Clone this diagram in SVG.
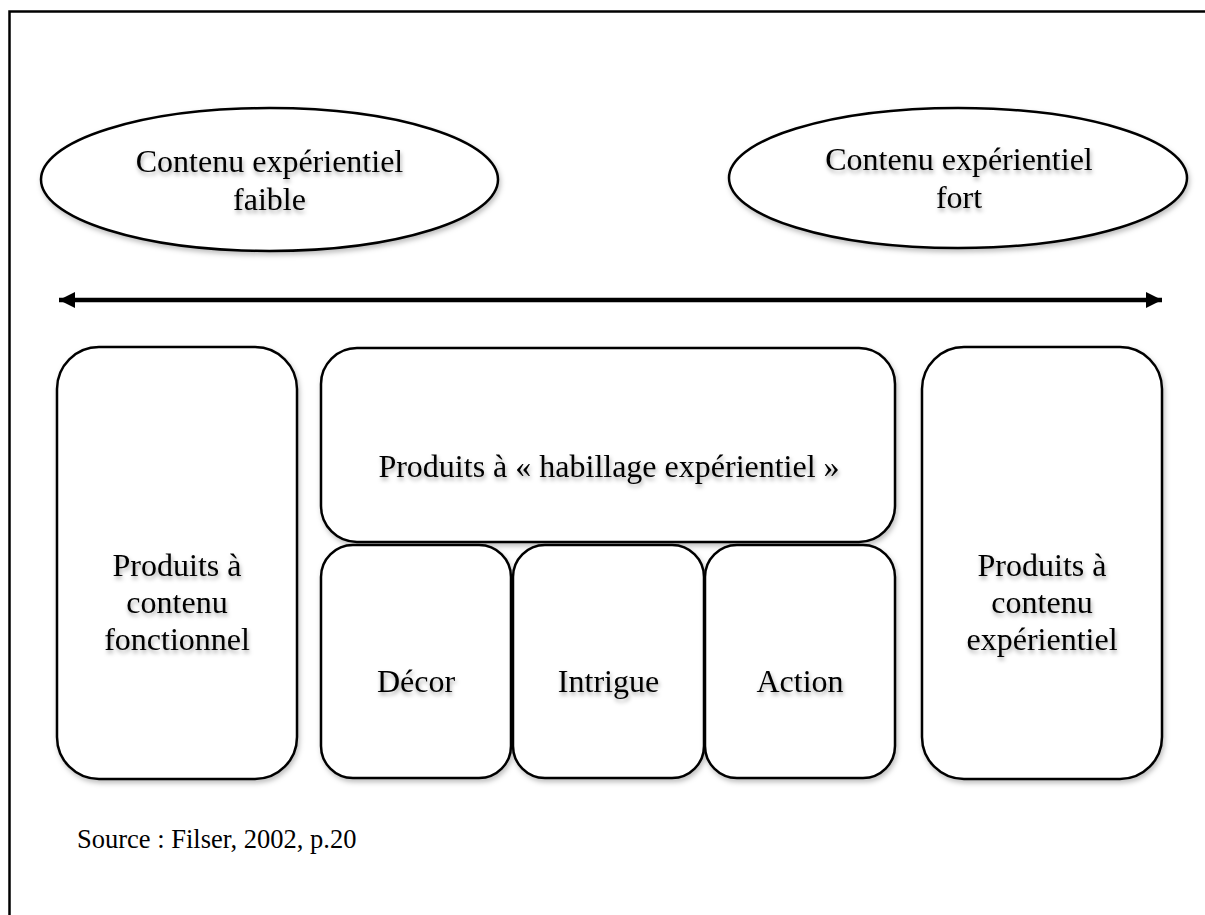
<svg xmlns="http://www.w3.org/2000/svg" width="1205" height="915" viewBox="0 0 1205 915">
  <defs>
    <filter id="sh" x="-10%" y="-10%" width="120%" height="130%">
      <feDropShadow dx="1.5" dy="3" stdDeviation="2.5" flood-color="#000" flood-opacity="0.25"/>
    </filter>
    <filter id="tsh" x="-10%" y="-20%" width="120%" height="150%">
      <feDropShadow dx="1" dy="3" stdDeviation="2" flood-color="#000" flood-opacity="0.35"/>
    </filter>
    <marker id="ah" viewBox="0 0 16 16" refX="16" refY="8" markerUnits="userSpaceOnUse" markerWidth="16" markerHeight="16" orient="auto-start-reverse">
      <path d="M0,0 L16,8 L0,16 Z" fill="#000"/>
    </marker>
  </defs>
  <style>
    .shape { fill: #fff; stroke: #000; stroke-width: 2.5; filter: url(#sh); }
    .lbl { font-family: "Liberation Serif", "Times New Roman", serif; font-size: 32px; fill: #000; text-anchor: middle; filter: url(#tsh); }
    .src { font-family: "Liberation Serif", "Times New Roman", serif; font-size: 26.5px; fill: #000; }
  </style>
  <rect width="1205" height="915" fill="#fff"/>
  <path d="M9.5,915 V11.5 H1205" fill="none" stroke="#000" stroke-width="2.5"/>

  <g id="ellipse-faible">
    <ellipse class="shape" cx="269.5" cy="179.5" rx="228.5" ry="71.5"/>
    <text class="lbl" x="269.5" y="172">Contenu expérientiel</text>
    <text class="lbl" x="269.5" y="210">faible</text>
  </g>
  <g id="ellipse-fort">
    <ellipse class="shape" cx="958" cy="178" rx="229" ry="70"/>
    <text class="lbl" x="959" y="170">Contenu expérientiel</text>
    <text class="lbl" x="959" y="208">fort</text>
  </g>

  <g id="connectors">
    <line x1="59" y1="300" x2="1162" y2="300" stroke="#000" stroke-width="4.5" marker-start="url(#ah)" marker-end="url(#ah)"/>
  </g>

  <g id="box-fonctionnel">
    <rect class="shape" x="57" y="347" width="240" height="432" rx="42" ry="42"/>
    <text class="lbl" x="177" y="576">Produits à</text>
    <text class="lbl" x="177" y="613">contenu</text>
    <text class="lbl" x="177" y="650">fonctionnel</text>
  </g>
  <g id="box-habillage">
    <rect class="shape" x="321" y="348" width="574" height="194" rx="36" ry="36"/>
    <text class="lbl" x="609" y="477">Produits à « habillage expérientiel »</text>
  </g>
  <g id="box-decor">
    <rect class="shape" x="321" y="545" width="190" height="233" rx="32" ry="32"/>
    <text class="lbl" x="416" y="692">Décor</text>
  </g>
  <g id="box-intrigue">
    <rect class="shape" x="513" y="545" width="191" height="233" rx="32" ry="32"/>
    <text class="lbl" x="608.5" y="692">Intrigue</text>
  </g>
  <g id="box-action">
    <rect class="shape" x="705" y="545" width="190" height="233" rx="32" ry="32"/>
    <text class="lbl" x="800" y="692">Action</text>
  </g>
  <g id="box-experientiel">
    <rect class="shape" x="922" y="347" width="240" height="432" rx="42" ry="42"/>
    <text class="lbl" x="1042" y="576">Produits à</text>
    <text class="lbl" x="1042" y="613">contenu</text>
    <text class="lbl" x="1042" y="650">expérientiel</text>
  </g>

  <text class="src" x="77" y="848">Source : Filser, 2002, p.20</text>
</svg>
